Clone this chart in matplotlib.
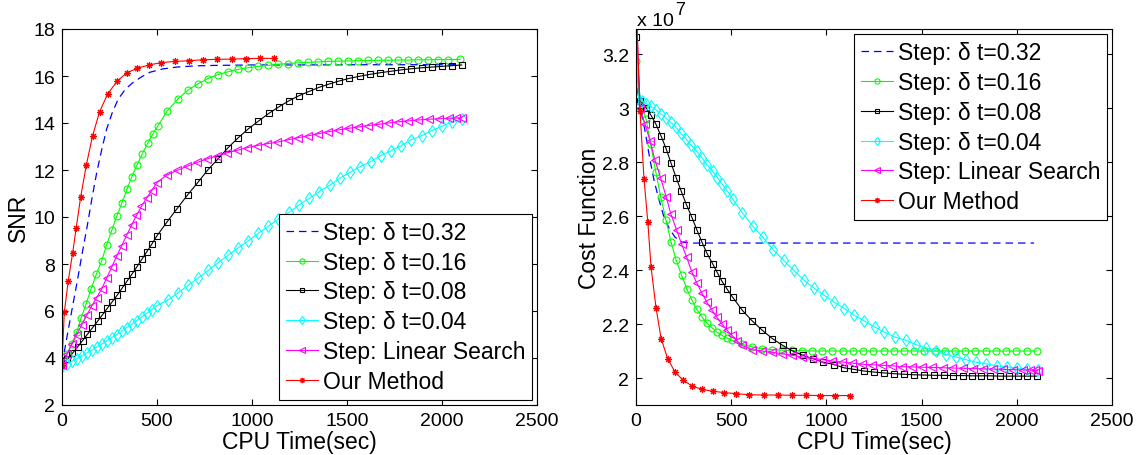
import matplotlib.pyplot as plt

plt.rcParams['font.family'] = ['Liberation Sans', 'DejaVu Sans']

# ---------------- left panel: SNR vs CPU time ----------------
t_b1 = [0, 25, 50, 80, 105, 133, 160, 183, 210, 235, 265, 296, 335, 375, 420, 463, 530, 604, 700, 800, 1000, 1200, 1600, 2095]
snr_b = [3.72, 4.85, 5.95, 7.25, 8.4, 9.63, 10.9, 11.9, 12.9, 13.74, 14.45, 15.02, 15.45, 15.73, 15.97, 16.16, 16.30, 16.38, 16.43, 16.45, 16.47, 16.47, 16.48, 16.48]

t_g1 = [0, 25, 51, 77, 100, 126, 153, 181, 209, 235, 263, 288, 316, 342, 368, 396, 423, 451, 477, 504,
        554, 609, 661, 716, 768, 821, 874, 926, 979, 1032, 1084, 1137, 1189,
        1242, 1295, 1347, 1400, 1453, 1505, 1558, 1611, 1663, 1716, 1768, 1821, 1874, 1926, 1979, 2032, 2095]
snr_g = [3.72, 4.15, 4.60, 5.09, 5.69, 6.28, 6.94, 7.57, 8.14, 8.82, 9.46, 10.03, 10.61, 11.18, 11.72, 12.23, 12.69, 13.14, 13.52, 13.87,
         14.51, 15.01, 15.39, 15.67, 15.89, 16.06, 16.18, 16.28, 16.35, 16.41, 16.45, 16.50, 16.53,
         16.56, 16.58, 16.60, 16.62, 16.63, 16.64, 16.65, 16.66, 16.67, 16.67, 16.68, 16.68, 16.69, 16.69, 16.70, 16.70, 16.71]

t_k1 = [0, 28, 55, 82, 108, 134, 160, 187, 213, 239, 265, 291, 317, 343, 369, 395, 421, 447, 473, 498,
        551, 604, 661, 716, 768, 821, 874, 926, 979, 1032,
        1089, 1142, 1195, 1247, 1302, 1354, 1407, 1460, 1512, 1567,
        1621, 1674, 1730, 1784, 1839, 1893, 1946, 2000, 2053, 2104]
snr_k = [3.72, 3.95, 4.20, 4.47, 4.74, 5.01, 5.28, 5.56, 5.84, 6.12, 6.40, 6.68, 6.98, 7.28, 7.58, 7.89, 8.21, 8.53, 8.85, 9.18,
         9.77, 10.34, 10.94, 11.48, 12.01, 12.47, 12.95, 13.36, 13.74, 14.07,
         14.41, 14.69, 14.95, 15.16, 15.35, 15.52, 15.66, 15.79, 15.90, 15.99,
         16.07, 16.14, 16.20, 16.26, 16.31, 16.35, 16.38, 16.41, 16.44, 16.47]

t_c1 = [0, 26, 52, 78, 104, 130, 156, 183, 209, 235, 261, 288, 314, 340, 367, 393, 419, 446, 472, 498,
        558, 611, 664, 717, 770, 823, 875, 928, 980, 1033, 1086, 1139,
        1196, 1249, 1302, 1354, 1410, 1463, 1516, 1568, 1624, 1677, 1732, 1784, 1837, 1893, 1946, 1998, 2051, 2104]
snr_c = [3.65, 3.75, 3.86, 3.97, 4.09, 4.21, 4.33, 4.46, 4.59, 4.72, 4.86, 5.00, 5.14, 5.29, 5.44, 5.59, 5.74, 5.90, 6.06, 6.22,
         6.47, 6.78, 7.09, 7.41, 7.73, 8.06, 8.38, 8.69, 8.99, 9.30, 9.61, 9.92,
         10.20, 10.52, 10.80, 11.08, 11.36, 11.65, 11.90, 12.14, 12.35, 12.61, 12.82, 13.03, 13.28, 13.46, 13.67, 13.86, 14.03, 14.17]

t_m1 = [0, 26, 52, 78, 104, 130, 156, 182, 209, 235, 261, 287, 314, 340, 366, 392, 418, 445, 472, 498,
        551, 604, 657, 710, 763, 816, 869, 922, 975, 1028,
        1081, 1134, 1187, 1240, 1293, 1346, 1399, 1452, 1505, 1558,
        1611, 1664, 1717, 1770, 1823, 1876, 1929, 1982, 2035, 2075, 2105]
snr_m = [3.72, 4.15, 4.58, 5.00, 5.42, 5.82, 6.20, 6.57, 6.94, 7.40, 7.86, 8.32, 8.78, 9.22, 9.65, 10.07, 10.45, 10.80, 11.12, 11.45,
         11.78, 11.98, 12.15, 12.32, 12.47, 12.60, 12.73, 12.84, 12.95, 13.04,
         13.12, 13.19, 13.28, 13.37, 13.45, 13.54, 13.62, 13.70, 13.77, 13.83,
         13.89, 13.94, 14.00, 14.05, 14.09, 14.13, 14.16, 14.18, 14.20, 14.21, 14.22]

t_r1 = [0, 12, 33, 56, 75, 98, 128, 161, 198, 240, 289, 340, 396, 458, 523, 593, 667, 740, 817, 893, 968, 1042, 1116]
snr_r = [3.72, 5.94, 7.29, 8.47, 9.55, 10.84, 12.21, 13.46, 14.48, 15.23, 15.77, 16.13, 16.33, 16.47, 16.57, 16.62, 16.65, 16.69, 16.71, 16.72, 16.74, 16.75, 16.75]

# ---------------- right panel: cost function (x 1e7) ----------------
t_b2 = [0, 8, 47, 74, 95, 117, 144, 175, 205, 240, 280, 2091]
cost_b = [3.40, 3.05, 2.917, 2.806, 2.732, 2.670, 2.603, 2.553, 2.522, 2.504, 2.500, 2.500]

t_g2 = [0, 18, 35, 53, 77, 104, 130, 158, 184, 211, 240, 267, 293, 319, 346, 372, 398, 425, 451, 477, 504,
        556, 609, 662, 714, 767, 820, 872,
        925, 979, 1032, 1086, 1140, 1193, 1247, 1300, 1354, 1408, 1461, 1515, 1569, 1622, 1676, 1729, 1783, 1837, 1890, 1944, 1998, 2051, 2105]
cost_g = [3.174, 3.028, 3.00, 2.958, 2.868, 2.763, 2.670, 2.584, 2.504, 2.436, 2.380, 2.330, 2.289, 2.255, 2.226, 2.204, 2.187, 2.170, 2.158, 2.148, 2.140,
          2.125, 2.115, 2.109, 2.105, 2.103, 2.102, 2.101,
          2.100, 2.100, 2.100, 2.100, 2.100, 2.100, 2.100, 2.100, 2.100, 2.100, 2.100, 2.100, 2.100, 2.100, 2.100, 2.100, 2.100, 2.100, 2.100, 2.100, 2.100, 2.100, 2.100]

t_k2 = [0, 21, 53, 79, 105, 132, 158, 184, 211, 237, 265, 293, 319, 346, 372, 402, 428, 451, 477, 507,
        558, 611, 663, 716, 770, 823, 876, 928, 981, 1039,
        1091, 1144, 1196, 1249, 1302, 1354, 1407, 1460, 1512, 1565,
        1617, 1666, 1715, 1764, 1812, 1861, 1910, 1959, 2008, 2056, 2105]
cost_k = [3.264, 3.028, 3.001, 2.973, 2.940, 2.896, 2.850, 2.796, 2.742, 2.693, 2.642, 2.596, 2.550, 2.504, 2.463, 2.424, 2.389, 2.359, 2.331, 2.300,
          2.251, 2.211, 2.177, 2.146, 2.121, 2.100, 2.084, 2.072, 2.059, 2.050,
          2.038, 2.032, 2.026, 2.022, 2.019, 2.016, 2.014, 2.012, 2.011, 2.010,
          2.010, 2.009, 2.009, 2.008, 2.008, 2.008, 2.007, 2.007, 2.007, 2.007, 2.007]

t_c2 = [0, 12, 30, 53, 77, 104, 130, 156, 182, 209, 235, 261, 288, 319, 346, 372, 402, 428, 454, 480, 507,
        559, 612, 667, 719, 775, 828, 880, 933, 989, 1042,
        1095, 1147, 1200, 1253, 1305, 1358, 1416, 1468, 1521, 1574,
        1626, 1679, 1732, 1784, 1837, 1895, 1947, 2003, 2056, 2109]
cost_c = [3.40, 3.035, 3.028, 3.016, 3.006, 2.994, 2.979, 2.963, 2.948, 2.930, 2.907, 2.887, 2.864, 2.840, 2.816, 2.791, 2.767, 2.742, 2.717, 2.693, 2.664,
          2.611, 2.564, 2.521, 2.476, 2.436, 2.399, 2.364, 2.334, 2.306, 2.281,
          2.257, 2.232, 2.211, 2.189, 2.170, 2.152, 2.140, 2.124, 2.112, 2.100,
          2.087, 2.078, 2.068, 2.059, 2.053, 2.044, 2.041, 2.037, 2.032, 2.029]

t_m2 = [0, 21, 47, 74, 100, 130, 158, 184, 214, 240, 266, 293, 319, 346, 372, 398, 425, 451, 477, 504, 530, 556,
        609, 662, 714, 767, 820, 872, 925, 978, 1030, 1083,
        1136, 1188, 1241, 1294, 1346, 1399, 1452, 1504, 1557, 1610,
        1662, 1715, 1768, 1820, 1873, 1926, 1978, 2031, 2070, 2095, 2110]
cost_m = [3.40, 3.00, 2.942, 2.878, 2.806, 2.740, 2.672, 2.606, 2.547, 2.495, 2.448, 2.393, 2.352, 2.315, 2.281, 2.252, 2.225, 2.200, 2.178, 2.158, 2.138, 2.121,
          2.105, 2.100, 2.095, 2.090, 2.084, 2.078, 2.074, 2.068, 2.063, 2.059,
          2.055, 2.051, 2.049, 2.047, 2.045, 2.042, 2.041, 2.040, 2.039, 2.038,
          2.037, 2.036, 2.035, 2.034, 2.033, 2.032, 2.031, 2.030, 2.029, 2.028, 2.027]

t_r2 = [0, 21, 42, 62, 79, 105, 132, 166, 205, 249, 296, 346, 402, 463, 526, 596, 670, 746, 820, 895, 968, 1044, 1123]
cost_r = [3.40, 2.991, 2.738, 2.578, 2.411, 2.261, 2.146, 2.072, 2.022, 1.991, 1.970, 1.958, 1.951, 1.946, 1.942, 1.938, 1.937, 1.937, 1.936, 1.936, 1.935, 1.935, 1.935]

labels = ['Step: δ t=0.32', 'Step: δ t=0.16', 'Step: δ t=0.08', 'Step: δ t=0.04', 'Step: Linear Search', 'Our Method']
colors = ['#0000ff', '#00ff00', 'black', '#00ffff', '#ff00ff', '#ff0000']
markers = ['None', 'o', 's', 'd', '<', (8, 2, 0)]
msizes = [0, 5, 4.2, 6, 5.5, 5]

left_series = [(t_b1, snr_b), (t_g1, snr_g), (t_k1, snr_k), (t_c1, snr_c), (t_m1, snr_m), (t_r1, snr_r)]
right_series = [(t_b2, cost_b), (t_g2, cost_g), (t_k2, cost_k), (t_c2, cost_c), (t_m2, cost_m), (t_r2, cost_r)]

fig = plt.figure(figsize=(11.38, 4.56), dpi=100)
ax1 = fig.add_axes([62/1138, 50/456, 475/1138, 376/456])
ax2 = fig.add_axes([636/1138, 50/456, 476/1138, 376/456])

for ax, series in [(ax1, left_series), (ax2, right_series)]:
    for i, (t, v) in enumerate(series):
        if i == 0:
            ax.plot(t, v, color=colors[i], lw=0.9, dashes=(6, 4), label=labels[i])
        else:
            ax.plot(t, v, color=colors[i], lw=0.8, marker=markers[i], ms=msizes[i],
                    mfc='none', mec=colors[i], mew=0.8, label=labels[i])
    ax.set_xlim(0, 2500)
    ax.set_xticks([0, 500, 1000, 1500, 2000, 2500])
    ax.tick_params(direction='in', top=True, right=True, length=4.5, width=0.8, labelsize=14)
    ax.tick_params(axis='x', pad=5)
    ax.tick_params(axis='y', pad=5)
    for s in ax.spines.values():
        s.set_linewidth(0.8)
    ax.set_xlabel('CPU Time(sec)', fontsize=16.5)
    ax.xaxis.set_label_coords(0.5, -0.066)

ax1.set_ylim(2, 18)
ax1.set_yticks([2, 4, 6, 8, 10, 12, 14, 16, 18])
ax1.set_ylabel('SNR', fontsize=16.5)
ax1.yaxis.set_label_coords((30 - 62) / 475, 0.5)

ax2.set_ylim(1.9, 3.293)
ax2.set_yticks([2.0, 2.2, 2.4, 2.6, 2.8, 3.0, 3.2])
ax2.set_yticklabels(['2', '2.2', '2.4', '2.6', '2.8', '3', '3.2'])
ax2.set_ylabel('Cost Function', fontsize=16.5)
ax2.yaxis.set_label_coords((601 - 636) / 476, 0.5)

fig.text(637/1138, 1 - 26/456, 'x 10', fontsize=14, va='baseline')
fig.text(675/1138, 1 - 15/456, '7', fontsize=13, va='baseline')

leg_kw = dict(fontsize=16.5, frameon=True, fancybox=False, framealpha=1, edgecolor='black',
              borderpad=0.3, labelspacing=0.3, handlelength=1.4, handletextpad=0.2,
              borderaxespad=0.22, markerscale=0.75)
l1 = ax1.legend(loc='lower right', **leg_kw)
l2 = ax2.legend(loc='upper right', **leg_kw)
for l in (l1, l2):
    l.get_frame().set_linewidth(0.8)

fig.savefig('out.png', dpi=100)
